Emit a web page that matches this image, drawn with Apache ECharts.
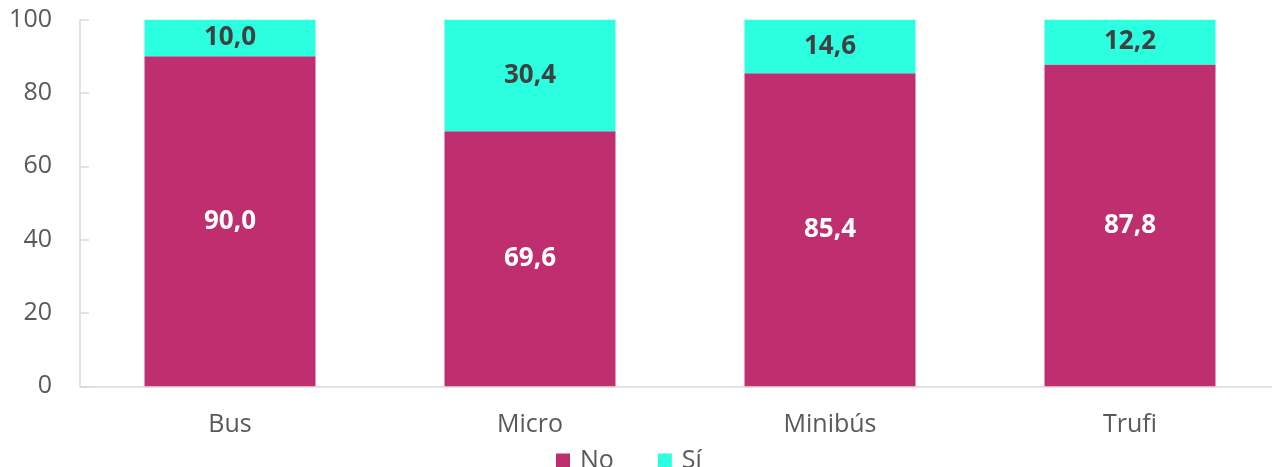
<!DOCTYPE html>
<html>
<head>
<meta charset="utf-8">
<script src="https://cdn.jsdelivr.net/npm/echarts@6/dist/echarts.min.js"></script>
<style>
  html, body { margin: 0; padding: 0; background: #ffffff; overflow: hidden; }
  /* canvas is a little wider than the window so the plot runs past the right edge */
  #chart { width: 1280px; height: 467px; }
</style>
</head>
<body>
<div id="chart"></div>
<script>
// Share of trips by vehicle type (%), stacked to 100
const categories = ['Bus', 'Micro', 'Minibús', 'Trufi'];
const noValues = [90.0, 69.6, 85.4, 87.8];
const siValues = [10.0, 30.4, 14.6, 12.2];
const yTicks = { min: 0, max: 100, interval: 20 };

const FONT = '"Open Sans", "Noto Sans", sans-serif';
const fmt = p => p.value.toFixed(1).replace('.', ',');

const chart = echarts.init(document.getElementById('chart'), null, { renderer: 'canvas' });

chart.setOption({
  animation: false,
  textStyle: { fontFamily: FONT },
  grid: { left: 80, top: 19.7, right: 0, bottom: 80.7, containLabel: false },
  legend: {
    data: ['No', 'Sí'],
    top: 448,
    left: 556,
    padding: 0,
    itemWidth: 14,
    itemHeight: 14,
    itemGap: 44,
    icon: 'rect',
    textStyle: { fontFamily: FONT, fontSize: 25, color: '#595959', padding: [0, 0, 0, 5] }
  },
  xAxis: {
    type: 'category',
    data: categories,
    axisLine: { show: true, lineStyle: { color: '#D9D9D9', width: 1.5 } },
    axisTick: { show: false },
    axisLabel: { fontFamily: FONT, fontSize: 25, color: '#595959', margin: 26 }
  },
  yAxis: {
    type: 'value',
    min: yTicks.min,
    max: yTicks.max,
    interval: yTicks.interval,
    splitLine: { show: false },
    axisLine: { show: true, lineStyle: { color: '#D9D9D9', width: 1.5 } },
    axisTick: { show: true, inside: true, length: 9, lineStyle: { color: '#D9D9D9', width: 1.5 } },
    axisLabel: { fontFamily: FONT, fontSize: 25, color: '#595959', margin: 28 }
  },
  series: [
    {
      name: 'No',
      type: 'bar',
      stack: 'total',
      data: noValues,
      barWidth: '57%',
      itemStyle: { color: '#BF2E6E' },
      label: {
        show: true,
        position: 'inside',
        formatter: fmt,
        fontFamily: FONT,
        fontWeight: 'bold',
        fontSize: 26,
        color: '#FFFFFF'
      }
    },
    {
      name: 'Sí',
      type: 'bar',
      stack: 'total',
      data: siValues,
      barWidth: '57%',
      itemStyle: { color: '#2CFFE0' },
      label: {
        show: true,
        position: 'inside',
        formatter: fmt,
        fontFamily: FONT,
        fontWeight: 'bold',
        fontSize: 26,
        color: '#404040'
      }
    }
  ]
});
</script>
</body>
</html>
